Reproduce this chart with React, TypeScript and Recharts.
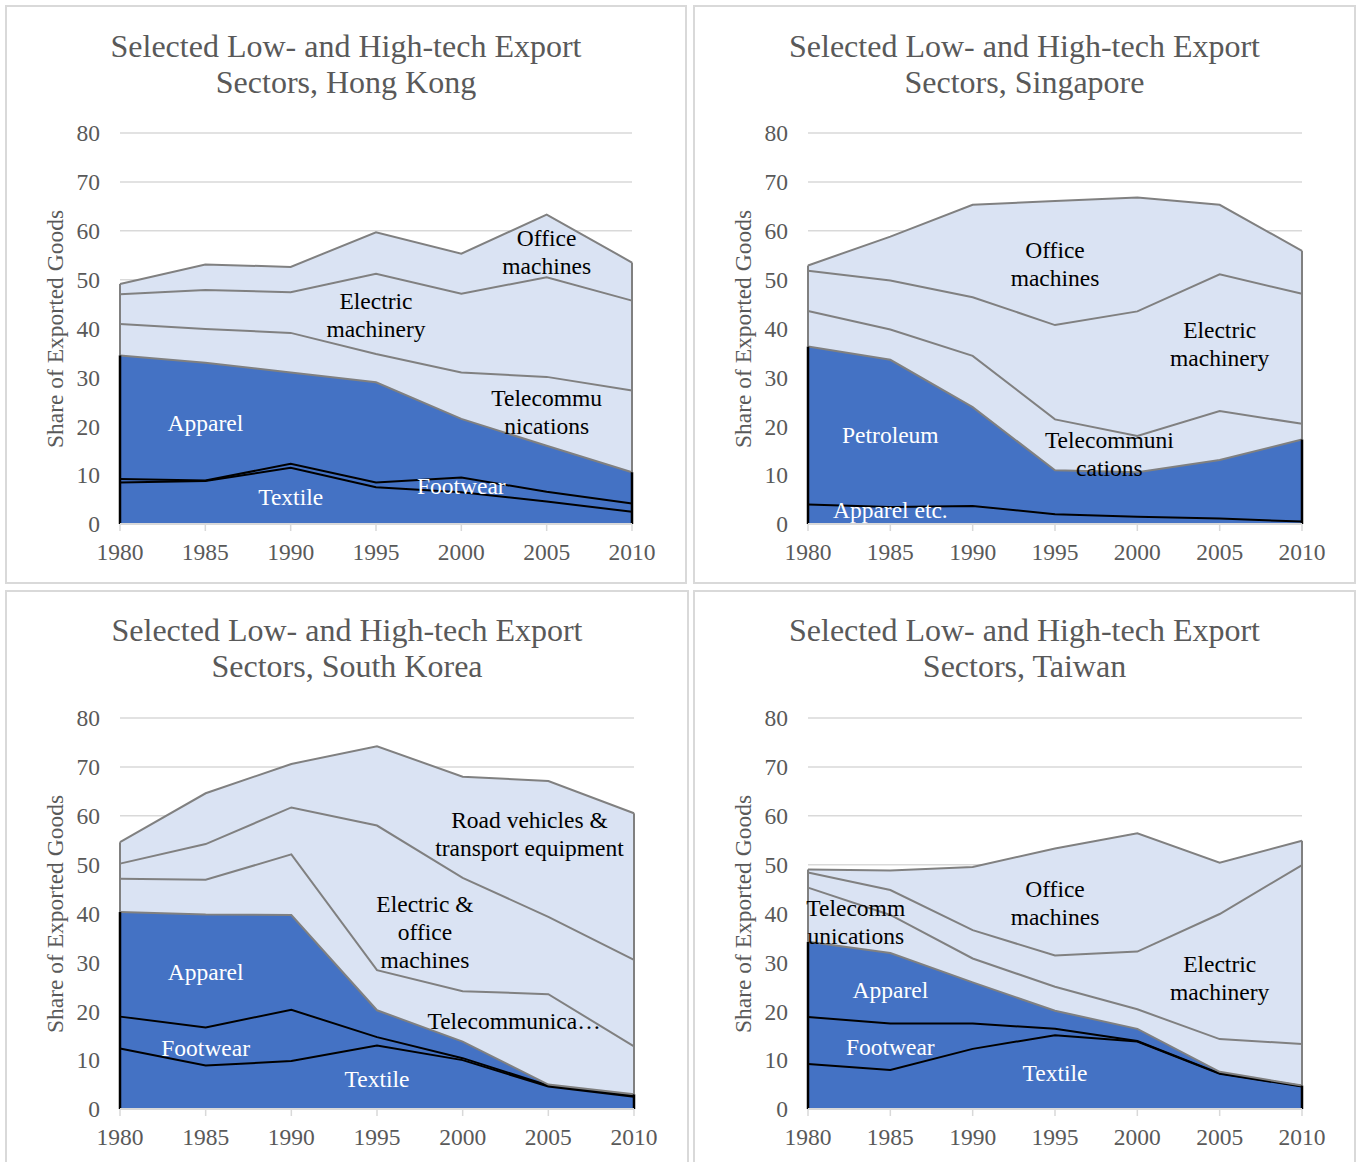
import React from 'react';
import { AreaChart, Area, XAxis, YAxis, CartesianGrid, ReferenceLine, ReferenceDot } from 'recharts';

const years = [1980, 1985, 1990, 1995, 2000, 2005, 2010];
const yTicks = [0, 10, 20, 30, 40, 50, 60, 70, 80];

// Hong Kong (bottom to top)
const hkTextile = [8.5, 8.8, 11.5, 7.5, 6.5, 4.6, 2.5];
const hkFootwear = [0.7, 0.1, 0.8, 1.0, 3.0, 2.0, 1.7];
const hkApparel = [25.3, 24.1, 18.7, 20.5, 12.0, 9.4, 6.4];
const hkTelecom = [6.4, 6.9, 8.1, 5.8, 9.5, 14.1, 16.7];
const hkElectric = [6.1, 8.0, 8.3, 16.4, 16.1, 20.4, 18.4];
const hkOffice = [2.1, 5.2, 5.2, 8.5, 8.2, 12.8, 7.8];

// Singapore
const sgApparel = [4.0, 3.5, 3.7, 2.0, 1.5, 1.1, 0.5];
const sgPetroleum = [32.3, 30.1, 20.2, 9.0, 9.1, 12.0, 16.8];
const sgTelecom = [7.3, 6.2, 10.5, 10.4, 7.4, 10.0, 3.2];
const sgElectric = [8.2, 10.0, 12.0, 19.3, 25.5, 28.0, 26.6];
const sgOffice = [1.1, 9.0, 18.9, 25.4, 23.3, 14.2, 8.8];

// South Korea
const krTextile = [12.4, 8.9, 9.8, 13.0, 10.0, 4.6, 2.5];
const krFootwear = [6.5, 7.8, 10.5, 1.7, 0.4, 0.2, 0.2];
const krApparel = [21.4, 23.1, 19.4, 5.5, 3.4, 0.2, 0.3];
const krTelecom = [6.8, 7.1, 12.4, 8.2, 10.3, 18.5, 9.8];
const krElecOffice = [3.1, 7.3, 9.6, 29.6, 23.2, 15.8, 17.7];
const krRoad = [4.4, 10.4, 8.9, 16.2, 20.7, 27.8, 30.0];

// Taiwan
const twTextile = [9.2, 8.0, 12.3, 15.1, 13.8, 7.2, 4.6];
const twFootwear = [9.6, 9.5, 5.2, 1.3, 0.1, 0.1, 0.1];
const twApparel = [15.4, 14.4, 8.4, 3.7, 2.5, 0.3, 0.1];
const twTelecom = [11.1, 7.8, 4.9, 4.9, 4.0, 6.7, 8.5];
const twElectric = [3.1, 5.1, 5.8, 6.4, 11.8, 25.6, 36.6];
const twOffice = [0.6, 4.0, 12.9, 21.9, 24.2, 10.5, 5.0];

const DARK = '#4472C4';
const LIGHT = '#DAE3F3';
const GRAY = '#808080';
const TEXT = '#595959';
const FONT = '"Liberation Serif", "Times New Roman", serif';

type Series = { key: string; values: number[]; low: boolean; stroke: string };
type Lbl = { x: number; y: number; lines: string[]; white: boolean };

const hkSeries: Series[] = [
  { key: 'Textile', values: hkTextile, low: true, stroke: '#000' },
  { key: 'Footwear', values: hkFootwear, low: true, stroke: '#000' },
  { key: 'Apparel', values: hkApparel, low: true, stroke: GRAY },
  { key: 'Telecommunications', values: hkTelecom, low: false, stroke: GRAY },
  { key: 'Electric machinery', values: hkElectric, low: false, stroke: GRAY },
  { key: 'Office machines', values: hkOffice, low: false, stroke: GRAY },
];
const hkLabels: Lbl[] = [
  { x: 2005, y: 55.6, lines: ['Office', 'machines'], white: false },
  { x: 1995, y: 42.8, lines: ['Electric', 'machinery'], white: false },
  { x: 2005, y: 22.9, lines: ['Telecommu', 'nications'], white: false },
  { x: 1985, y: 20.7, lines: ['Apparel'], white: true },
  { x: 1990, y: 5.5, lines: ['Textile'], white: true },
  { x: 2000, y: 7.8, lines: ['Footwear'], white: true },
];

const sgSeries: Series[] = [
  { key: 'Apparel etc.', values: sgApparel, low: true, stroke: '#000' },
  { key: 'Petroleum', values: sgPetroleum, low: true, stroke: GRAY },
  { key: 'Telecommunications', values: sgTelecom, low: false, stroke: GRAY },
  { key: 'Electric machinery', values: sgElectric, low: false, stroke: GRAY },
  { key: 'Office machines', values: sgOffice, low: false, stroke: GRAY },
];
const sgLabels: Lbl[] = [
  { x: 1995, y: 53.2, lines: ['Office', 'machines'], white: false },
  { x: 2005, y: 36.8, lines: ['Electric', 'machinery'], white: false },
  { x: 1998.3, y: 14.3, lines: ['Telecommuni', 'cations'], white: false },
  { x: 1985, y: 18.2, lines: ['Petroleum'], white: true },
  { x: 1985, y: 2.9, lines: ['Apparel etc.'], white: true },
];

const krSeries: Series[] = [
  { key: 'Textile', values: krTextile, low: true, stroke: '#000' },
  { key: 'Footwear', values: krFootwear, low: true, stroke: '#000' },
  { key: 'Apparel', values: krApparel, low: true, stroke: GRAY },
  { key: 'Telecommunications', values: krTelecom, low: false, stroke: GRAY },
  { key: 'Electric & office machines', values: krElecOffice, low: false, stroke: GRAY },
  { key: 'Road vehicles & transport equipment', values: krRoad, low: false, stroke: GRAY },
];
const krLabels: Lbl[] = [
  { x: 2003.9, y: 56.3, lines: ['Road vehicles &', 'transport equipment'], white: false },
  { x: 1997.8, y: 36.2, lines: ['Electric &', 'office', 'machines'], white: false },
  { x: 2003.0, y: 18.0, lines: ['Telecommunica…'], white: false },
  { x: 1985, y: 28.0, lines: ['Apparel'], white: true },
  { x: 1985, y: 12.5, lines: ['Footwear'], white: true },
  { x: 1995, y: 6.1, lines: ['Textile'], white: true },
];

const twSeries: Series[] = [
  { key: 'Textile', values: twTextile, low: true, stroke: '#000' },
  { key: 'Footwear', values: twFootwear, low: true, stroke: '#000' },
  { key: 'Apparel', values: twApparel, low: true, stroke: GRAY },
  { key: 'Telecommunications', values: twTelecom, low: false, stroke: GRAY },
  { key: 'Electric machinery', values: twElectric, low: false, stroke: GRAY },
  { key: 'Office machines', values: twOffice, low: false, stroke: GRAY },
];
const twLabels: Lbl[] = [
  { x: 1982.9, y: 38.3, lines: ['Telecomm', 'unications'], white: false },
  { x: 1995, y: 42.1, lines: ['Office', 'machines'], white: false },
  { x: 2005, y: 26.8, lines: ['Electric', 'machinery'], white: false },
  { x: 1985, y: 24.3, lines: ['Apparel'], white: true },
  { x: 1985, y: 12.7, lines: ['Footwear'], white: true },
  { x: 1995, y: 7.4, lines: ['Textile'], white: true },
];

function MultiLabel(props: any) {
  const { viewBox, lines, color } = props;
  if (!viewBox) return null;
  const cx = viewBox.x + viewBox.width / 2;
  const cy = viewBox.y + viewBox.height / 2;
  const lh = 28;
  const startY = cy - ((lines.length - 1) * lh) / 2;
  return (
    <text textAnchor="middle" fill={color} fontSize={23.5} fontFamily={FONT}>
      {lines.map((l: string, i: number) => (
        <tspan key={i} x={cx} y={startY + i * lh} dominantBaseline="central">
          {l}
        </tspan>
      ))}
    </text>
  );
}

type PanelProps = {
  left: number;
  top: number;
  width: number;
  height: number;
  plotLeft: number;
  plotRight: number;
  plotTop: number;
  plotBottom: number;
  title: string[];
  titleTop: number;
  series: Series[];
  labels: Lbl[];
};

function Panel(p: PanelProps) {
  const data = years.map((year, i) => {
    const row: any = { year };
    p.series.forEach((s) => {
      row[s.key] = s.values[i];
    });
    return row;
  });
  const lowSum = (i: number) => p.series.filter((s) => s.low).reduce((a, s) => a + s.values[i], 0);
  const total = (i: number) => p.series.reduce((a, s) => a + s.values[i], 0);
  const last = years.length - 1;
  const yAxisWidth = p.plotLeft - p.left;
  const mRight = p.left + p.width - p.plotRight;
  const mTop = p.plotTop - p.top;
  const xAxisHeight = p.top + p.height - p.plotBottom;
  const plotCenterY = (p.plotTop + p.plotBottom) / 2 - p.top;

  return (
    <div style={{ position: 'absolute', left: p.left, top: p.top, width: p.width, height: p.height }}>
      <div
        style={{
          position: 'absolute',
          left: 0,
          top: 0,
          width: p.width,
          height: p.height,
          boxSizing: 'border-box',
          border: '2px solid #d9d9d9',
        }}
      />
      <div
        style={{
          position: 'absolute',
          left: 0,
          top: p.titleTop,
          width: p.width,
          textAlign: 'center',
          fontFamily: FONT,
          fontSize: 32,
          lineHeight: '36px',
          color: TEXT,
        }}
      >
        {p.title.map((t, i) => (
          <div key={i}>{t}</div>
        ))}
      </div>
      <div
        style={{
          position: 'absolute',
          left: 50 - 200,
          top: plotCenterY - 15,
          width: 400,
          height: 30,
          lineHeight: '30px',
          textAlign: 'center',
          fontFamily: FONT,
          fontSize: 23.5,
          color: TEXT,
          transform: 'rotate(-90deg)',
          whiteSpace: 'nowrap',
        }}
      >
        Share of Exported Goods
      </div>
      <div style={{ position: 'absolute', left: 0, top: 0 }}>
        <AreaChart
          width={p.width}
          height={p.height}
          data={data}
          margin={{ top: mTop, right: mRight, bottom: 0, left: 0 }}
        >
          <CartesianGrid vertical={false} stroke="#d9d9d9" strokeWidth={1.5} />
          <XAxis
            dataKey="year"
            type="number"
            domain={[1980, 2010]}
            ticks={years}
            height={xAxisHeight}
            axisLine={{ stroke: '#d9d9d9', strokeWidth: 2 }}
            tickLine={{ stroke: '#d9d9d9', strokeWidth: 1.5 }}
            tickSize={7}
            tickMargin={12}
            tick={{ fill: TEXT, fontSize: 23.5, fontFamily: FONT }}
            interval={0}
          />
          <YAxis
            domain={[0, 80]}
            ticks={yTicks}
            width={yAxisWidth}
            axisLine={false}
            tickLine={false}
            tickSize={0}
            tickMargin={20}
            tick={{ fill: TEXT, fontSize: 23.5, fontFamily: FONT }}
            interval={0}
          />
          {p.series.map((s) => (
            <Area
              key={'f' + s.key}
              type="linear"
              dataKey={s.key}
              stackId="fill"
              fill={s.low ? DARK : LIGHT}
              fillOpacity={1}
              stroke="none"
              dot={false}
              activeDot={false}
              isAnimationActive={false}
            />
          ))}
          {p.series.map((s) => (
            <Area
              key={'s' + s.key}
              type="linear"
              dataKey={s.key}
              stackId="line"
              fill="none"
              fillOpacity={0}
              stroke={s.stroke}
              strokeWidth={2}
              dot={false}
              activeDot={false}
              isAnimationActive={false}
            />
          ))}
          <ReferenceLine segment={[{ x: 1980, y: lowSum(0) }, { x: 1980, y: total(0) }]} stroke={GRAY} strokeWidth={2} />
          <ReferenceLine segment={[{ x: 2010, y: lowSum(last) }, { x: 2010, y: total(last) }]} stroke={GRAY} strokeWidth={2} />
          <ReferenceLine segment={[{ x: 1980, y: 0 }, { x: 1980, y: lowSum(0) }]} stroke="#000" strokeWidth={2.5} />
          <ReferenceLine segment={[{ x: 2010, y: 0 }, { x: 2010, y: lowSum(last) }]} stroke="#000" strokeWidth={2.5} />
          {p.labels.map((l, i) => (
            <ReferenceDot
              key={'l' + i}
              x={l.x}
              y={l.y}
              r={1}
              fill="none"
              stroke="none"
              label={<MultiLabel lines={l.lines} color={l.white ? '#ffffff' : '#000000'} />}
            />
          ))}
        </AreaChart>
      </div>
    </div>
  );
}

export default function App() {
  return (
    <div
      style={{
        position: 'absolute',
        left: 0,
        top: 0,
        width: 1362,
        height: 1162,
        overflow: 'hidden',
        background: '#ffffff',
      }}
    >
      <Panel
        left={5}
        top={5}
        width={682}
        height={579}
        plotLeft={120}
        plotRight={632}
        plotTop={133}
        plotBottom={524}
        title={['Selected Low- and High-tech Export', 'Sectors, Hong Kong']}
        titleTop={23}
        series={hkSeries}
        labels={hkLabels}
      />
      <Panel
        left={693}
        top={5}
        width={663}
        height={579}
        plotLeft={808}
        plotRight={1302}
        plotTop={133}
        plotBottom={524}
        title={['Selected Low- and High-tech Export', 'Sectors, Singapore']}
        titleTop={23}
        series={sgSeries}
        labels={sgLabels}
      />
      <Panel
        left={5}
        top={590}
        width={684}
        height={585}
        plotLeft={120}
        plotRight={634}
        plotTop={718}
        plotBottom={1109}
        title={['Selected Low- and High-tech Export', 'Sectors, South Korea']}
        titleTop={22}
        series={krSeries}
        labels={krLabels}
      />
      <Panel
        left={693}
        top={590}
        width={663}
        height={585}
        plotLeft={808}
        plotRight={1302}
        plotTop={718}
        plotBottom={1109}
        title={['Selected Low- and High-tech Export', 'Sectors, Taiwan']}
        titleTop={22}
        series={twSeries}
        labels={twLabels}
      />
    </div>
  );
}
